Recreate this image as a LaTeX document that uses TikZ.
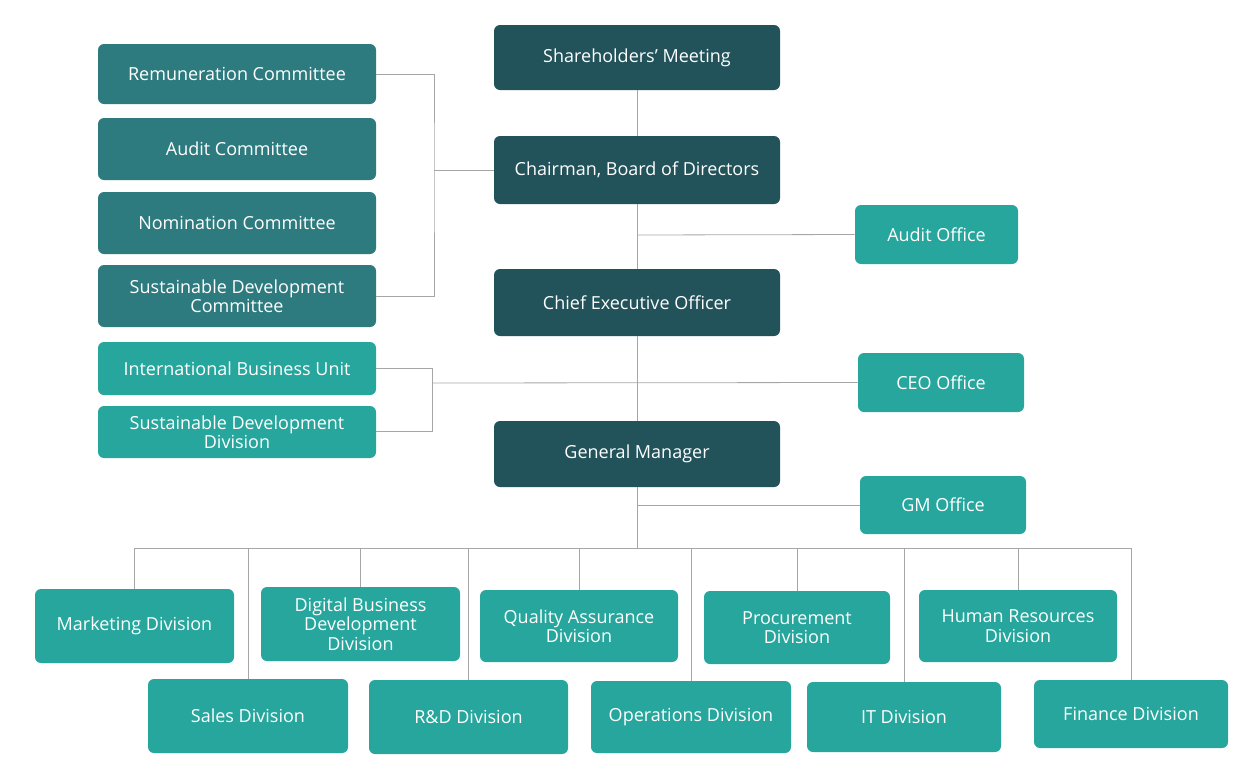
\documentclass[tikz,border=0pt]{standalone}
\usepackage{fontspec}
\setmainfont{Open Sans}
\begin{document}
\definecolor{dk}{HTML}{22525A}
\definecolor{md}{HTML}{2E7B7F}
\definecolor{tl}{HTML}{26A69C}
\begin{tikzpicture}[x=0.75pt,y=-0.75pt,
 bx/.style={draw=none,rounded corners=4.5pt,align=center,text=white,font=\fontsize{13.5}{14.5}\selectfont,inner sep=0pt},
 ln/.style={draw=gray!70,line width=0.6pt}]
\useasboundingbox (0,0) rectangle (1259,775);
\newcommand{\bxn}[7]{\node[bx,fill=#6,minimum width={(#4-#2)*0.75pt},minimum height={(#5-#3)*0.75pt}] (#1) at ({(#2+#4)/2},{(#3+#5)/2}) {#7};}
\bxn{sh}{494}{25}{780}{90}{dk}{Shareholders’ Meeting}
\bxn{ch}{494}{136}{780}{204}{dk}{Chairman, Board of Directors}
\bxn{ceo}{494}{269}{780}{336}{dk}{Chief Executive Officer}
\bxn{gm}{494}{421}{780}{487}{dk}{General Manager}
\bxn{rem}{98}{44}{376}{104}{md}{Remuneration Committee}
\bxn{ac}{98}{118}{376}{180}{md}{Audit Committee}
\bxn{nom}{98}{192}{376}{254}{md}{Nomination Committee}
\bxn{sdc}{98}{265}{376}{327}{md}{Sustainable Development\\Committee}
\bxn{ibu}{98}{342}{376}{395}{tl}{International Business Unit}
\bxn{sdd}{98}{406}{376}{458}{tl}{Sustainable Development\\Division}
\bxn{ao}{855}{205}{1018}{264}{tl}{Audit Office}
\bxn{co}{858}{353}{1024}{412}{tl}{CEO Office}
\bxn{go}{860}{476}{1026}{534}{tl}{GM Office}
\bxn{mk}{35}{589}{234}{663}{tl}{Marketing Division}
\bxn{db}{261}{587}{460}{661}{tl}{Digital Business\\Development\\Division}
\bxn{qa}{480}{590}{678}{662}{tl}{Quality Assurance\\Division}
\bxn{pr}{704}{591}{890}{664}{tl}{Procurement\\Division}
\bxn{hr}{919}{590}{1117}{662}{tl}{Human Resources\\Division}
\bxn{sa}{148}{679}{348}{753}{tl}{Sales Division}
\bxn{rd}{369}{680}{568}{754}{tl}{R\&D Division}
\bxn{op}{591}{681}{791}{753}{tl}{Operations Division}
\bxn{it}{807}{682}{1001}{752}{tl}{IT Division}
\bxn{fi}{1034}{680}{1228}{748}{tl}{Finance Division}
\begin{scope}[on background layer/.style={}]
\draw[ln] (sh.south) -- (ch.north);
\draw[ln] (ch.south) -- (ceo.north);
\draw[ln] (ceo.south) -- (gm.north);
\draw[ln] (rem.east) -| (434,170) |- (sdc.east);
\draw[ln] (434,170) -- (ch.west);
\draw[ln] (ibu.east) -| (432,431) -- (sdd.east|-432,431);
\draw[ln] (432,383) -- (co.west);
\draw[ln] (637,235) -- (ao.west);
\draw[ln] (637,505) -- (go.west);
\coordinate (bl) at (135,548); \coordinate (br) at (1131,548);
\draw[ln] (gm.south) -- (637,548);
\draw[ln] (bl) -- (br);
\foreach \n in {mk,db,qa,pr,hr,sa,rd,op,it,fi}{\draw[ln] (\n.north|-bl) -- (\n.north);}
\end{scope}
\end{tikzpicture}
\end{document}
